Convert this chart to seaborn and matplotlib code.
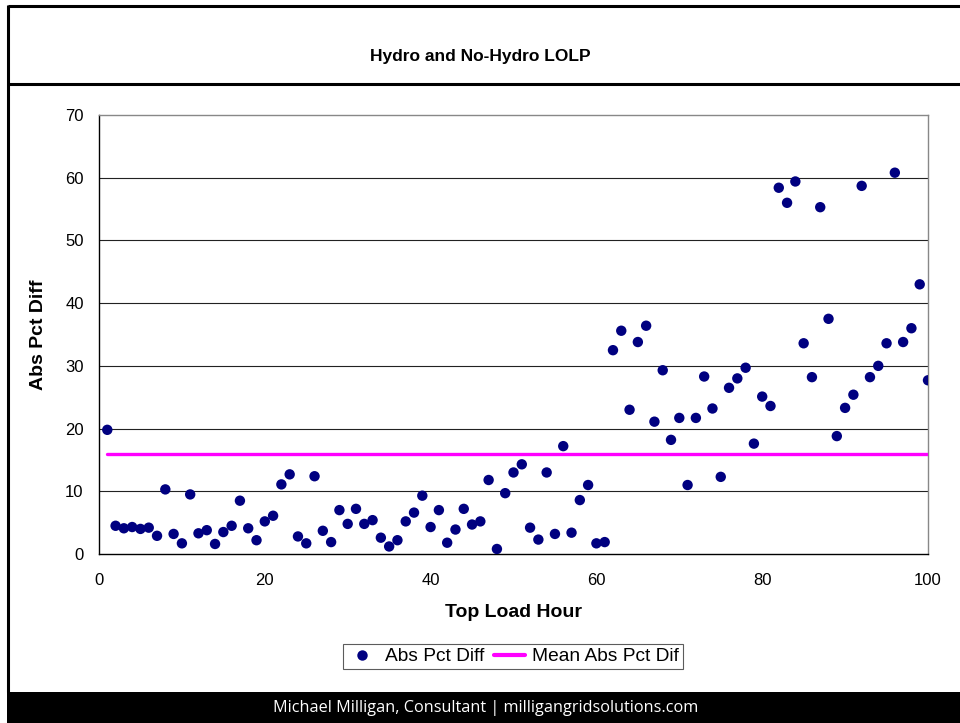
import numpy as np
import pandas as pd
import matplotlib
matplotlib.use("Agg")
import matplotlib.pyplot as plt
from matplotlib.lines import Line2D
from matplotlib.patches import Rectangle
import seaborn as sns

# Top load hours 1..100 and the absolute percent difference in LOLP
hours = list(range(1, 101))
abs_pct_diff = [
    19.8, 4.5, 4.1, 4.3, 4.0, 4.2, 2.9, 10.3, 3.2, 1.7,
    9.5, 3.3, 3.8, 1.6, 3.5, 4.5, 8.5, 4.1, 2.2, 5.2,
    6.1, 11.1, 12.7, 2.8, 1.7, 12.4, 3.7, 1.9, 7.0, 4.8,
    7.2, 4.8, 5.4, 2.6, 1.2, 2.2, 5.2, 6.6, 9.3, 4.3,
    7.0, 1.8, 3.9, 7.2, 4.7, 5.2, 11.8, 0.8, 9.7, 13.0,
    14.3, 4.2, 2.3, 13.0, 3.2, 17.2, 3.4, 8.6, 11.0, 1.7,
    1.9, 32.5, 35.6, 23.0, 33.8, 36.4, 21.1, 29.3, 18.2, 21.7,
    11.0, 21.7, 28.3, 23.2, 12.3, 26.5, 28.0, 29.7, 17.6, 25.1,
    23.6, 58.4, 56.0, 59.4, 33.6, 28.2, 55.3, 37.5, 18.8, 23.3,
    25.4, 58.7, 28.2, 30.0, 33.6, 60.8, 33.8, 36.0, 43.0, 27.7,
]
mean_abs_pct_diff = 16.0

x_ticks = [0, 20, 40, 60, 80, 100]
y_ticks = [0, 10, 20, 30, 40, 50, 60, 70]

df = pd.DataFrame({"hour": hours, "diff": abs_pct_diff})
mean_df = pd.DataFrame({"hour": [hours[0], hours[-1]],
                        "mean": [mean_abs_pct_diff, mean_abs_pct_diff]})

sns.set_theme(style="white")
plt.rcParams["font.family"] = ["Liberation Sans", "DejaVu Sans"]
plt.rcParams["text.color"] = "black"
plt.rcParams["axes.labelcolor"] = "black"

W, H = 960, 723
fig = plt.figure(figsize=(W / 100, H / 100), dpi=100)
fig.patch.set_facecolor("white")

# plot area in pixel coordinates
L, R, T, B = 99, 928, 115, 554
ax = fig.add_axes([L / W, 1 - B / H, (R - L) / W, (B - T) / H])

sns.scatterplot(data=df, x="hour", y="diff", ax=ax, color="#000080",
                s=56, edgecolor="none", label="Abs Pct Diff", zorder=4,
                legend=False)
sns.lineplot(data=mean_df, x="hour", y="mean", ax=ax, color="#FF00FF",
             linewidth=2.4, label="Mean Abs Pct Dif", zorder=3, legend=False)

ax.set_xlim(0, 100)
ax.set_ylim(0, 70)
ax.set_xticks(x_ticks)
ax.set_yticks(y_ticks)
ax.tick_params(axis="both", labelsize=12, colors="black", direction="out",
               length=5, width=0.8, pad=6)
ax.tick_params(axis="x", pad=9)
for yv in y_ticks[1:-1]:
    ax.axhline(yv, color="#222222", linewidth=0.8, zorder=1)

for side in ["left", "bottom"]:
    ax.spines[side].set_color("black")
    ax.spines[side].set_linewidth(1.0)
for side in ["top", "right"]:
    ax.spines[side].set_color("#888888")
    ax.spines[side].set_linewidth(1.0)

ax.set_xlabel("Top Load Hour", fontsize=14, fontweight="bold", labelpad=11,
              color="black")
ax.set_ylabel("Abs Pct Diff", fontsize=14, fontweight="bold", labelpad=13,
              color="black")

# legend below the plot
handles = [
    Line2D([], [], linestyle="none", marker="o", markersize=7.5,
           markerfacecolor="#000080", markeredgecolor="none"),
    Line2D([], [], color="#FF00FF", linewidth=3),
]
leg = fig.legend(handles, ["Abs Pct Diff", "Mean Abs Pct Dif"],
                 loc="center", bbox_to_anchor=(513 / W, 1 - 656.5 / H),
                 ncol=2, fontsize=13.8, frameon=True, fancybox=False,
                 handlelength=1.6, handletextpad=0.4, columnspacing=0.5,
                 borderpad=0.2, borderaxespad=0, labelcolor="black")
leg.get_frame().set_edgecolor("#333333")
leg.get_frame().set_linewidth(0.8)

# outer frame, title band and footer
def px_line(x0, y0, x1, y1, lw=2.2, color="black"):
    fig.add_artist(Line2D([x0 / W, x1 / W], [1 - y0 / H, 1 - y1 / H],
                          transform=fig.transFigure, color=color,
                          linewidth=lw, solid_capstyle="butt"))

px_line(8, 6, 960, 6)
px_line(8, 84, 960, 84)
px_line(8, 5, 8, 692)

fig.add_artist(Rectangle((7 / W, 0), (W - 7) / W, (H - 692) / H,
                         transform=fig.transFigure, facecolor="black",
                         edgecolor="none"))

fig.text(480 / W, 1 - 57 / H, "Hydro and No-Hydro LOLP", ha="center",
         va="center", fontsize=12.5, fontweight="bold", color="black")
fig.text(486 / W, 1 - 708 / H,
         "Michael Milligan, Consultant | milligangridsolutions.com",
         ha="center", va="center", fontsize=11.7, color="white",
         family=["Open Sans", "DejaVu Sans"])

fig.savefig("out.png", dpi=100, facecolor="white")
